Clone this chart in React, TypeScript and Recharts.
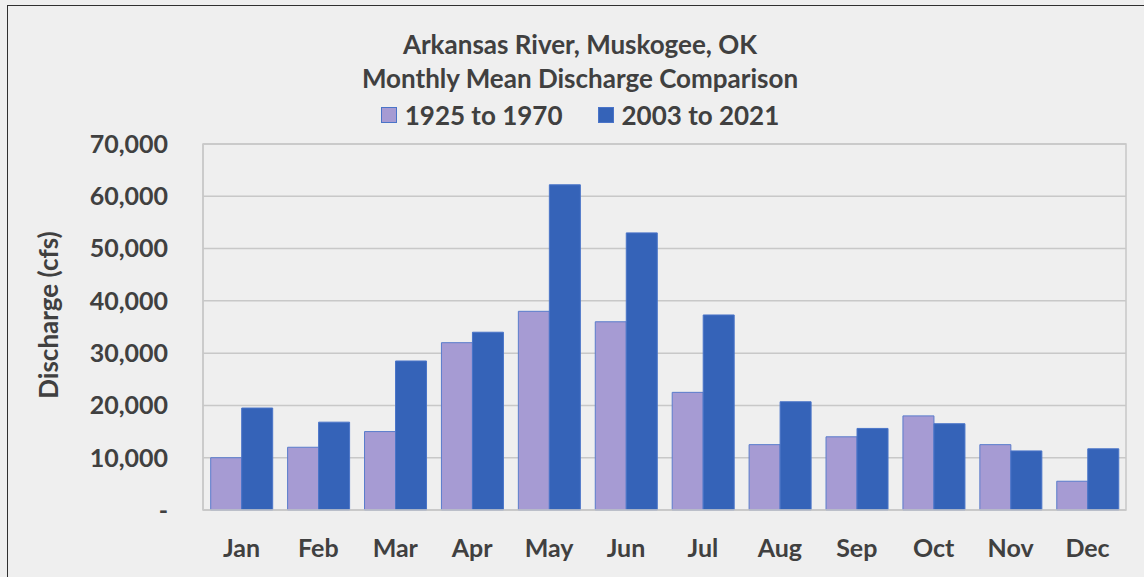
import React from "react";
import {
  BarChart,
  Bar,
  XAxis,
  YAxis,
  CartesianGrid,
  ReferenceArea,
} from "recharts";

// monthly mean discharge, cfs
const months = ["Jan", "Feb", "Mar", "Apr", "May", "Jun", "Jul", "Aug", "Sep", "Oct", "Nov", "Dec"];
const early = [10000, 12000, 15000, 32000, 38000, 36000, 22500, 12500, 14000, 18000, 12500, 5500];
const recent = [19500, 16800, 28500, 34000, 62200, 53000, 37300, 20700, 15600, 16500, 11300, 11700];
const yTicks = [0, 10000, 20000, 30000, 40000, 50000, 60000, 70000];

const seriesNames = ["1925 to 1970", "2003 to 2021"];
const LIGHT = "#a69bd3";
const DARK = "#3563b8";
const TEXT = "#404040";
const FONT = "Lato, 'Open Sans', sans-serif";

const data = months.map((m, i) => ({ month: m, early: early[i], recent: recent[i] }));

const fmtTick = (v: number) => (v === 0 ? "-" : v.toLocaleString("en-US"));

const YLabel = () => (
  <text
    x={48}
    y={315}
    transform="rotate(-90, 48, 315)"
    textAnchor="middle"
    dominantBaseline="central"
    fill={TEXT}
    fontSize={26}
    fontWeight={700}
    fontFamily={FONT}
  >
    Discharge (cfs)
  </text>
);

export default function App() {
  const tickStyle = { fill: TEXT, fontSize: 25, fontWeight: 700, fontFamily: FONT };
  return (
    <div
      style={{
        position: "absolute",
        left: 0,
        top: 0,
        width: 1144,
        height: 577,
        background: "#efefef",
        overflow: "hidden",
        fontFamily: FONT,
      }}
    >
      <div
        style={{
          position: "absolute",
          left: 7,
          top: 5,
          width: 1150,
          height: 590,
          border: "1.5px solid #303030",
          boxSizing: "border-box",
        }}
      />
      <div
        style={{
          position: "absolute",
          left: 0,
          width: 1160,
          top: 27,
          textAlign: "center",
          color: TEXT,
          fontSize: 26,
          fontWeight: 700,
          lineHeight: "34px",
        }}
      >
        <div>Arkansas River, Muskogee, OK</div>
        <div>Monthly Mean Discharge Comparison</div>
        <div style={{ display: "flex", justifyContent: "center", alignItems: "center", marginTop: 3 }}>
          {seriesNames.map((name, i) => (
            <span key={name} style={{ display: "flex", alignItems: "center", marginLeft: i ? 35 : 0 }}>
              <span
                style={{
                  width: 16,
                  height: 16,
                  background: i ? DARK : LIGHT,
                  border: "1px solid #4a74c8",
                  boxSizing: "border-box",
                  marginRight: 8,
                }}
              />
              {name}
            </span>
          ))}
        </div>
      </div>
      <div style={{ position: "absolute", left: 0, top: 0 }}>
        <BarChart
          width={1144}
          height={577}
          data={data}
          margin={{ top: 144, right: 18, bottom: 0, left: 0 }}
          barCategoryGap="10%"
          barGap={0}
        >
          <CartesianGrid vertical={false} stroke="#c8c8c8" strokeWidth={1.5} />
          <ReferenceArea y1={0} y2={70000} fill="none" stroke="#c8c8c8" strokeWidth={1.5} ifOverflow="visible" />
          <XAxis
            dataKey="month"
            height={67}
            axisLine={{ stroke: "#c8c8c8", strokeWidth: 1.5 }}
            tickLine={false}
            tickSize={0}
            tickMargin={29}
            tick={tickStyle}
            interval={0}
          />
          <YAxis
            width={203}
            domain={[0, 70000]}
            ticks={yTicks}
            tickFormatter={fmtTick}
            axisLine={{ stroke: "#c8c8c8", strokeWidth: 1.5 }}
            tickLine={false}
            tickSize={0}
            tickMargin={35}
            tick={tickStyle}
            label={<YLabel />}
          />
          <Bar dataKey="early" name={seriesNames[0]} fill={LIGHT} stroke="#5a7ccc" strokeWidth={1} isAnimationActive={false} />
          <Bar dataKey="recent" name={seriesNames[1]} fill={DARK} stroke="#4a74c8" strokeWidth={1} isAnimationActive={false} />
        </BarChart>
      </div>
    </div>
  );
}
